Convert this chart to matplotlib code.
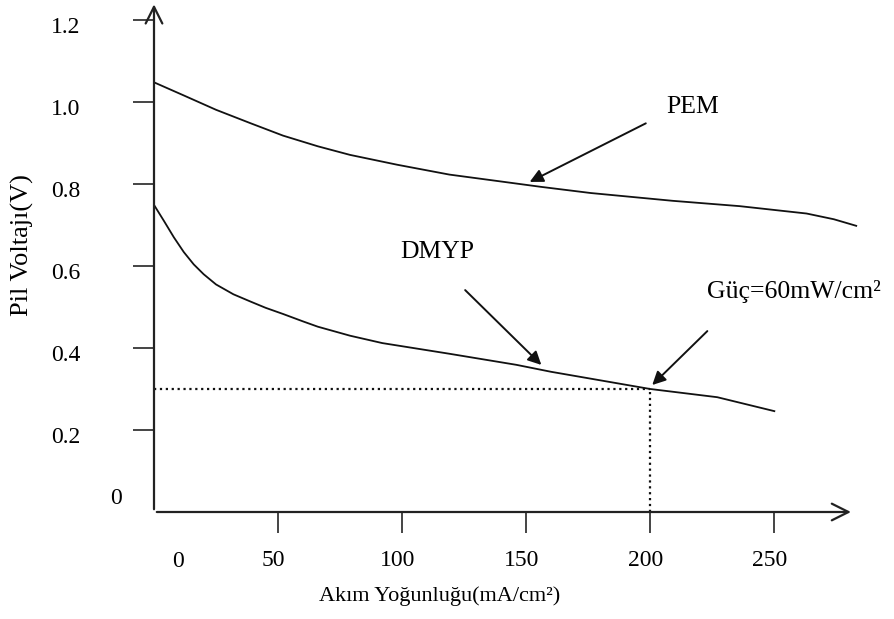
import matplotlib
matplotlib.use('Agg')
import matplotlib.pyplot as plt
from matplotlib.transforms import ScaledTranslation

plt.rcParams['font.family'] = ['Liberation Serif', 'DejaVu Serif']

# PEM eğrisi (akım yoğunluğu mA/cm2, voltaj V)
pem_x = [0, 12, 25, 39, 52, 66, 79, 98, 119, 140, 156, 176, 209, 236, 263, 274, 283]
pem_y = [1.048, 1.016, 0.981, 0.948, 0.918, 0.892, 0.871, 0.847, 0.823, 0.806,
         0.793, 0.778, 0.759, 0.746, 0.728, 0.714, 0.698]

# DMYP eğrisi
dmyp_x = [0, 4, 8, 12, 16, 20, 25, 32, 39, 45, 52, 60, 66, 79, 92, 119, 146, 160,
          200, 227, 250]
dmyp_y = [0.749, 0.710, 0.670, 0.634, 0.604, 0.580, 0.555, 0.531, 0.513, 0.498,
          0.483, 0.465, 0.452, 0.430, 0.412, 0.386, 0.359, 0.342, 0.300, 0.280, 0.246]

# 60 mW/cm2 çalışma noktası
op_x = 200
op_y = 0.3

x_ticks = [50, 100, 150, 200, 250]
y_ticks = [0.2, 0.4, 0.6, 0.8, 1.0, 1.2]

fig = plt.figure(figsize=(8.95, 6.19), dpi=100)
ax = fig.add_axes([154 / 895, 107 / 619, 0.804, 512.5 / 619])
ax.set_xlim(0, 290)
ax.set_ylim(0, 1.25)
for s in ax.spines.values():
    s.set_visible(False)

# eksenler (oklu)
ax.annotate('', xy=(282, 0), xytext=(0, 0),
            arrowprops=dict(arrowstyle='->', color='#222', lw=1.6, mutation_scale=30))
ax.annotate('', xy=(0, 1.245), xytext=(0, 0),
            arrowprops=dict(arrowstyle='->', color='#222', lw=1.6, mutation_scale=30))

ax.plot(pem_x, pem_y, color='#111', lw=1.3)
ax.plot(dmyp_x, dmyp_y, color='#111', lw=1.3)

# kesikli çizgiler
ax.plot([0, op_x], [op_y, op_y], color='#111', lw=1.6, ls=':')
ax.plot([op_x, op_x], [0, op_y], color='#111', lw=1.6, ls=':')

# tick ayarları
ax.set_xticks(x_ticks)
ax.set_xticklabels([str(v) for v in x_ticks])
ax.set_yticks(y_ticks)
ax.set_yticklabels(['%.1f' % v for v in y_ticks])
ax.tick_params(axis='both', length=15, width=1.4, color='#444', labelsize=17)
ax.tick_params(axis='x', pad=12)
ax.tick_params(axis='y', pad=38)
for lab in ax.get_yticklabels():
    lab.set_transform(lab.get_transform() + ScaledTranslation(0, -0.05, fig.dpi_scale_trans))
for lab in ax.get_xticklabels():
    lab.set_transform(lab.get_transform() + ScaledTranslation(-0.05, 0, fig.dpi_scale_trans))

ax.text(9.5, -0.12, '0', fontsize=17, ha='center', va='center')
ax.text(-15.5, 0.034, '0', fontsize=17, ha='center', va='center')

# etiketler ve oklar
arrow = dict(arrowstyle='-|>', color='#111', lw=1.4, mutation_scale=20)
ax.text(217, 0.988, 'PEM', fontsize=18.5, ha='center', va='center')
ax.annotate('', xy=(150.4, 0.802), xytext=(199.2, 0.951), arrowprops=arrow)
ax.text(114, 0.634, 'DMYP', fontsize=18.5, ha='center', va='center')
ax.annotate('', xy=(156.9, 0.354), xytext=(124.6, 0.546), arrowprops=arrow)
ax.text(223, 0.537, 'Güç=60mW/cm²', fontsize=18.5, ha='left', va='center')
ax.annotate('', xy=(200, 0.305), xytext=(223.8, 0.446), arrowprops=arrow)

fig.text(22 / 895, 1 - 245 / 619, 'Pil Voltajı(V)', rotation=90, fontsize=19,
         ha='center', va='center')
fig.text(440 / 895, 1 - 596 / 619, 'Akım Yoğunluğu(mA/cm²)', fontsize=16,
         ha='center', va='center')

fig.savefig('out.png', dpi=100)
